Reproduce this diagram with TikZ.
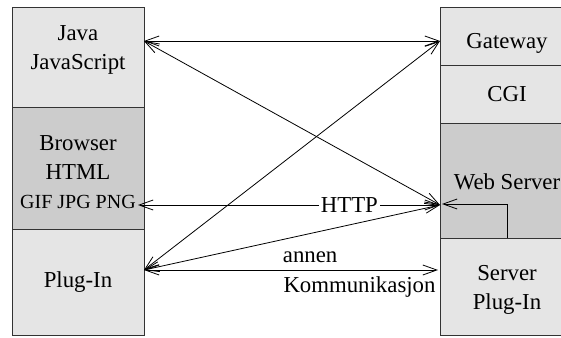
\documentclass[tikz,border=0pt]{standalone}
\usepackage{fontspec}
\setmainfont{Liberation Serif}
\usepackage{xcolor}
\usetikzlibrary{arrows.meta}
\definecolor{lightpart}{gray}{0.9}
\definecolor{darkpart}{gray}{0.8}
\tikzset{
  part/.style={draw=black!80,thin,inner sep=0pt,outer sep=0pt,anchor=north west},
  txt/.style={align=center,font=\fontsize{11.4}{14.5}\selectfont},
  comm/.style={{Straight Barb[length=7pt,width=5pt]}-{Straight Barb[length=7pt,width=5pt]},thin},
}

\begin{document}
\begin{tikzpicture}[x=0.5pt,y=-0.5pt]
  \useasboundingbox (0,0) rectangle (561,337);
  \clip (0,0) rectangle (561,337);
  % client side
  \node[part,fill=lightpart,minimum width=66pt,minimum height=50pt] (java) at (12,7) {};
  \node[part,fill=darkpart,minimum width=66pt,minimum height=61pt] (browser) at (java.south west) {};
  \node[part,fill=lightpart,minimum width=66pt,minimum height=53pt] (plugin) at (browser.south west) {};
  % server side
  \node[part,fill=lightpart,minimum width=67pt,minimum height=29pt] (gateway) at (440,7) {};
  \node[part,fill=lightpart,minimum width=67pt,minimum height=29pt] (cgi) at (gateway.south west) {};
  \node[part,fill=darkpart,minimum width=67pt,minimum height=57.5pt] (webserver) at (cgi.south west) {};
  \node[part,fill=lightpart,minimum width=67pt,minimum height=48.5pt] (splugin) at (webserver.south west) {};

  \node[txt] (javatxt) at ([yshift=3.5pt]java.center) {Java\\JavaScript};
  \node[txt] (browsertxt) at ([yshift=-2pt]browser.center) {Browser\\HTML\\{\fontsize{10}{12}\selectfont GIF JPG PNG}};
  \node[txt] (plugintxt) at (plugin.center) {Plug-In};
  \node[txt] (gatewaytxt) at ([yshift=-3.5pt]gateway.center) {Gateway};
  \node[txt] (cgitxt) at (cgi.center) {CGI};
  \node[txt] (webservertxt) at ([yshift=-0.5pt]webserver.center) {Web Server};
  \node[txt] (splugintxt) at ([yshift=-1.5pt]splugin.center) {Server\\Plug-In};

  % ports
  \coordinate (jport) at ([yshift=8pt]java.east);
  \coordinate (gport) at ([yshift=-2.5pt]gateway.west);
  \coordinate (wport) at ([yshift=-12.25pt]webserver.west);
  \coordinate (bport) at ([xshift=-3pt,yshift=-18.5pt]browser.east);
  \coordinate (pport) at ([yshift=6pt]plugin.east);
  \coordinate (sport) at ([xshift=-1pt,yshift=8.25pt]splugin.west);

  \path[comm]
    (jport) edge (gport)
            edge (wport)
    (pport) edge (gport)
            edge (wport)
            edge node[pos=0.565,above,txt] {annen} node[pos=0.733,below,txt] {Kommunikasjon} (sport)
    (bport) edge node[pos=0.7,fill=white,inner sep=1pt,txt] {HTTP} (wport);
  \draw[-{Straight Barb[length=7pt,width=5pt]},thin] (webserver.south) |- ([xshift=1pt,yshift=0.5pt]wport);
\end{tikzpicture}
\end{document}
